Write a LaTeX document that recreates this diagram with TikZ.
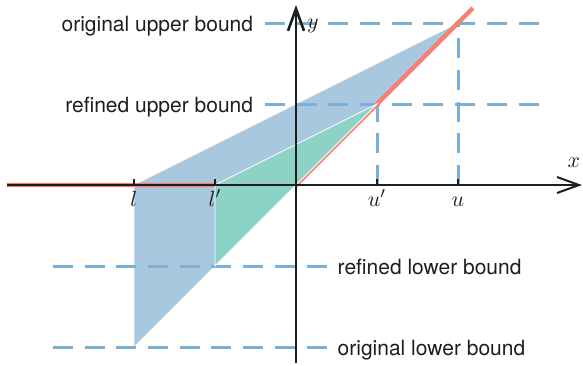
\documentclass[tikz,border=0pt]{standalone}
\usepackage{fontspec}
\newfontfamily\labfont{TeX Gyre Heros}
\usetikzlibrary{arrows.meta}
\definecolor{polyblue}{RGB}{168,200,224}
\definecolor{polygreen}{RGB}{141,210,198}
\definecolor{relured}{RGB}{244,128,112}
\definecolor{dashblue}{RGB}{123,175,212}
\definecolor{inkdark}{RGB}{30,30,30}
\begin{document}
\begin{tikzpicture}[x=40.5pt,y=40.5pt,
  boundline/.style={dashblue, line width=1.5pt, dash pattern=on 10pt off 5.85pt},
  axisline/.style={inkdark, -{Straight Barb[length=11pt,width=8pt]}},
  lab/.style={font=\labfont\fontsize{10.5pt}{12pt}\selectfont, inner sep=0pt, text=inkdark},
  ticklab/.style={font=\fontsize{11pt}{13pt}\selectfont, inner sep=0pt, anchor=base, text=inkdark},
  tickmark/.style={inkdark, line width=0.8pt}]
\useasboundingbox (-3.654,-2.222) rectangle (3.543,2.284);
% key points
\coordinate (L) at (-2,0);
\coordinate (Lp) at (-1,0);
\coordinate (O) at (0,0);
\coordinate (Up) at (1,0);
\coordinate (U) at (2,0);
\coordinate (A) at (2,2);
\coordinate (B) at (1,1);
\coordinate (C) at (-2,-2);
\coordinate (D) at (-1,-1);
% original relaxation
\fill[polyblue, draw=white, line width=0.3pt] (L) -- (A) -- (C) -- cycle;
% bound lines
\coordinate (ou1) at (-0.383,2);  \coordinate (ou2) at (3.0,2);
\coordinate (ru1) at (-0.383,1);  \coordinate (ru2) at (3.0,1);
\coordinate (rl1) at (-3.0,-1);   \coordinate (rl2) at (0.383,-1);
\coordinate (ol1) at (-3.0,-2);   \coordinate (ol2) at (0.383,-2);
\draw[boundline] (ou1) -- (ou2);
\draw[boundline] (ru1) -- (ru2);
\draw[boundline] (rl1) -- (rl2);
\draw[boundline] (ol1) -- (ol2);
\draw[boundline] (Up) -- (B);
\draw[boundline] (U) -- (A);
% ReLU
\coordinate (rs) at (-3.57,0);
\coordinate (re) at (2.185,2.185);
\draw[relured, line width=2.2pt] (rs) -- (O) -- (re);
% refined relaxation
\fill[polygreen, draw=white, line width=0.4pt] (Lp) -- (B) -- (D) -- cycle;
% axes
\coordinate (xs) at (-3.57,0); \coordinate (xe) at (3.53,0);
\coordinate (ys) at (0,-2.2);  \coordinate (ye) at (0,2.222);
\draw[axisline, line width=1pt] (xs) -- (xe);
\draw[axisline, line width=1.3pt] (ys) -- (ye);
\node[font=\fontsize{11pt}{13pt}\selectfont, text=inkdark] (xl) at (3.43,0.28) {$x$};
\node[font=\fontsize{11pt}{13pt}\selectfont, text=inkdark] (yl) at (0.21,1.96) {$y$};
% ticks
\foreach \p in {L,Lp,Up,U} \draw[tickmark] (\p) -- ++(0,0.075);
\node[ticklab] (tl) at (-2,-0.265) {$l$};
\node[ticklab] (tlp) at (-1,-0.265) {$l'$};
\node[ticklab] (tup) at (1,-0.265) {$u'$};
\node[ticklab] (tu) at (2,-0.265) {$u$};
% labels
\node[lab, anchor=base east] (t1) at (-0.525,1.894) {original upper bound};
\node[lab, anchor=base east] (t2) at (-0.525,0.894) {refined upper bound};
\node[lab, anchor=base west] (t3) at (0.51,-1.1) {refined lower bound};
\node[lab, anchor=base west] (t4) at (0.51,-2.1) {original lower bound};
\end{tikzpicture}
\end{document}
